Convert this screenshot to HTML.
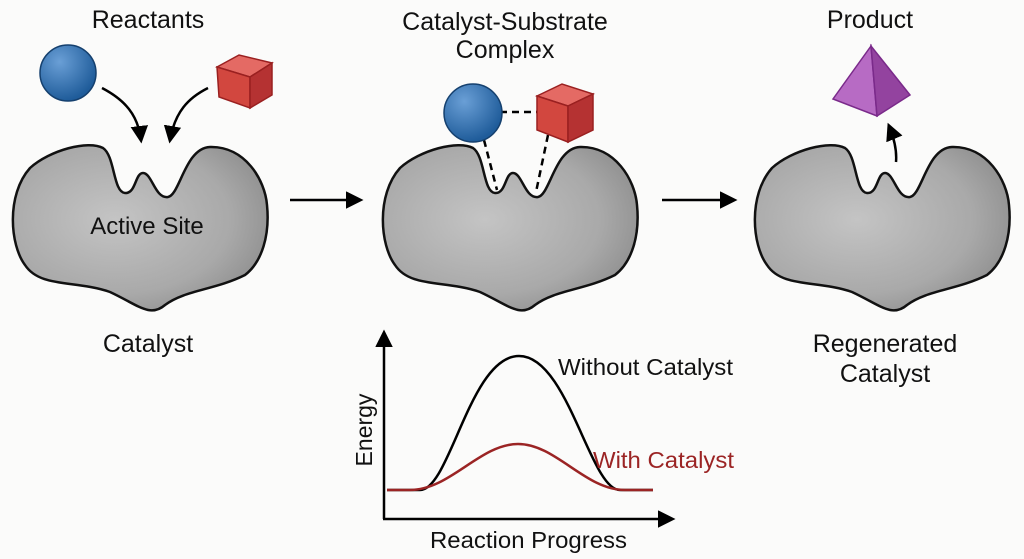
<!DOCTYPE html>
<html><head><meta charset="utf-8"><style>
html,body{margin:0;padding:0;background:#fbfbfa;}
svg{display:block;}
text{font-family:"Liberation Sans",sans-serif;}
</style></head><body>
<svg width="1024" height="559" viewBox="0 0 1024 559" xmlns="http://www.w3.org/2000/svg">
<defs>
<radialGradient id="g" cx="0.4" cy="0.45" r="0.65">
<stop offset="0" stop-color="#c4c4c4"/><stop offset="0.7" stop-color="#a9a9a9"/><stop offset="1" stop-color="#8f8f8f"/></radialGradient>
<radialGradient id="b" cx="0.35" cy="0.3" r="0.7">
<stop offset="0" stop-color="#6a9fd6"/><stop offset="1" stop-color="#1f5c9a"/></radialGradient>
<marker id="ah" viewBox="0 0 10 10" refX="8" refY="5" markerWidth="7" markerHeight="7" orient="auto"><path d="M0,0 L10,5 L0,10 z" fill="#000"/></marker>
<path id="cat" d="M 30 168 C 50 150, 88 140, 103 148 C 115 156, 113 192, 125 193 C 136 194, 135 173, 143 173 C 152 173, 155 199, 168 197 C 180 195, 185 148, 210 147 C 245 146, 265 180, 267 205 C 270 235, 262 262, 245 275 C 215 290, 185 290, 165 305 C 150 318, 138 305, 110 292 C 75 280, 40 288, 25 265 C 10 245, 6 195, 30 168 Z"/>
</defs>

<use href="#cat" fill="url(#g)" stroke="#111" stroke-width="2.5"/>
<use href="#cat" x="370" fill="url(#g)" stroke="#111" stroke-width="2.5"/>
<use href="#cat" x="742" fill="url(#g)" stroke="#111" stroke-width="2.5"/>

<circle cx="68" cy="73" r="28" fill="url(#b)" stroke="#15406e" stroke-width="1.5"/>
<g transform="translate(217,55)">
<path d="M0,12 L22,0 L55,8 L33,22 Z" fill="#e46a64" stroke="#9a2020" stroke-width="1.5"/>
<path d="M0,12 L33,22 L33,53 L2,42 Z" fill="#d2473f" stroke="#9a2020" stroke-width="1.5"/>
<path d="M33,22 L55,8 L55,40 L33,53 Z" fill="#b53232" stroke="#9a2020" stroke-width="1.5"/>
</g>
<path d="M102,88 C125,100 138,115 141,140" fill="none" stroke="#000" stroke-width="2.5" marker-end="url(#ah)"/>
<path d="M208,88 C188,98 175,112 170,140" fill="none" stroke="#000" stroke-width="2.5" marker-end="url(#ah)"/>

<line x1="500" y1="112" x2="538" y2="112" stroke="#000" stroke-width="2.5" stroke-dasharray="7,5"/>
<line x1="484" y1="140" x2="497" y2="190" stroke="#000" stroke-width="2.5" stroke-dasharray="7,5"/>
<line x1="548" y1="135" x2="536" y2="192" stroke="#000" stroke-width="2.5" stroke-dasharray="7,5"/>
<circle cx="473" cy="113" r="29" fill="url(#b)" stroke="#15406e" stroke-width="1.5"/>
<g transform="translate(537,84)">
<path d="M0,12 L25,0 L56,10 L31,22 Z" fill="#e46a64" stroke="#9a2020" stroke-width="1.5"/>
<path d="M0,12 L31,22 L31,58 L0,46 Z" fill="#d2473f" stroke="#9a2020" stroke-width="1.5"/>
<path d="M31,22 L56,10 L56,46 L31,58 Z" fill="#b53232" stroke="#9a2020" stroke-width="1.5"/>
</g>

<path d="M871,46 L833,99 L877,116 Z" fill="#b76bc4" stroke="#7a2a8a" stroke-width="1.5"/>
<path d="M871,46 L877,116 L910,95 Z" fill="#93439f" stroke="#7a2a8a" stroke-width="1.5"/>
<path d="M896,162 C897,150 894,138 889,126" fill="none" stroke="#000" stroke-width="2.5" marker-end="url(#ah)"/>

<line x1="290" y1="200" x2="360" y2="200" stroke="#000" stroke-width="2.5" marker-end="url(#ah)"/>
<line x1="662" y1="200" x2="734" y2="200" stroke="#000" stroke-width="2.5" marker-end="url(#ah)"/>

<g font-size="25" fill="#111" text-anchor="middle">
<text x="148" y="28">Reactants</text>
<text x="505" y="30">Catalyst-Substrate</text>
<text x="505" y="58">Complex</text>
<text x="870" y="28">Product</text>
<text x="148" y="352">Catalyst</text>
<text x="885" y="352">Regenerated</text>
<text x="885" y="382">Catalyst</text>
<text x="147" y="234" font-size="24">Active Site</text>
</g>

<line x1="384" y1="519" x2="384" y2="333" stroke="#000" stroke-width="2.5" marker-end="url(#ah)"/>
<line x1="383" y1="519" x2="672" y2="519" stroke="#000" stroke-width="2.5" marker-end="url(#ah)"/>
<path d="M387,490 L420,490 C450,490 470,356 519,356 C568,356 590,490 620,490 L653,490" fill="none" stroke="#000" stroke-width="2.5"/>
<path d="M387,490 L410,490 C450,490 480,444 518,444 C556,444 585,490 625,490 L653,490" fill="none" stroke="#9b2424" stroke-width="2.5"/>
<text x="558" y="375" font-size="23" fill="#111" textLength="175" lengthAdjust="spacingAndGlyphs">Without Catalyst</text>
<text x="593" y="468" font-size="23" fill="#9b2424" textLength="141" lengthAdjust="spacingAndGlyphs">With Catalyst</text>
<text transform="translate(372,430) rotate(-90)" font-size="23" fill="#111" text-anchor="middle">Energy</text>
<text x="430" y="548" font-size="23" fill="#111" textLength="197" lengthAdjust="spacingAndGlyphs">Reaction Progress</text>
</svg>
</body></html>
